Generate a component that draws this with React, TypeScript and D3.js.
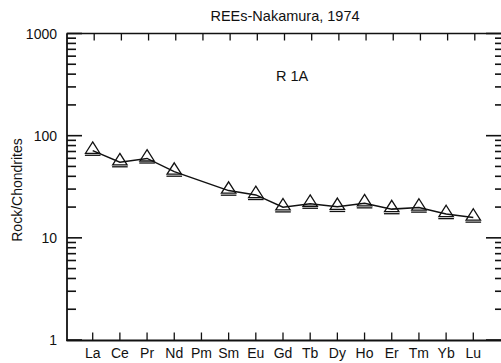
import React from "react";
import * as d3 from "d3";

const elements = ["La", "Ce", "Pr", "Nd", "Pm", "Sm", "Eu", "Gd", "Tb", "Dy", "Ho", "Er", "Tm", "Yb", "Lu"];
const values: (number | null)[] = [71.3, 55, 59.9, 44.5, null, 29, 26.3, 19.9, 21.6, 20.1, 21.8, 19.1, 19.8, 17.1, 15.8];
const yTickLabels = [1, 10, 100, 1000];
const title = "REEs-Nakamura, 1974";
const sampleLabel = "R 1A";
const yAxisLabel = "Rock/Chondrites";

const W = 501;
const H = 363;
const LEFT = 67;
const RIGHT = 502;
const TOP = 33.5;
const BOTTOM = 340.5;
const FONT = "Liberation Sans, Arial, sans-serif";

export default function App() {
  const x = d3.scaleLinear().domain([0, elements.length - 1]).range([92.7, 473.3]);
  const y = d3.scaleLog().domain([1, 1000]).range([340, 33.5]);
  const allTicks = y.ticks();
  const isMajor = (v: number) => Math.abs(Math.log10(v) - Math.round(Math.log10(v))) < 1e-9;

  const pts = values
    .map((v, i) => ({ v, i }))
    .filter((d) => d.v !== null) as { v: number; i: number }[];
  const line = d3
    .line<{ v: number; i: number }>()
    .x((d) => x(d.i))
    .y((d) => y(d.v));

  return (
    <svg
      width={W}
      height={H}
      style={{ position: "absolute", left: 0, top: 0, background: "#fff" }}
      fontFamily={FONT}
    >
      <rect x={0} y={0} width={W} height={H} fill="#fff" />
      <text x={285} y={20.5} fontSize={14.5} textAnchor="middle" fill="#111">
        {title}
      </text>
      <text x={276} y={81} fontSize={14.5} fill="#111">
        {sampleLabel}
      </text>
      <text
        transform={`translate(21.5, 190) rotate(-90)`}
        fontSize={14}
        textAnchor="middle"
        fill="#111"
      >
        {yAxisLabel}
      </text>

      {/* frame */}
      <line x1={LEFT} x2={LEFT} y1={TOP} y2={BOTTOM + 0.5} stroke="#111" strokeWidth={1.8} />
      <line x1={LEFT - 0.5} x2={W} y1={BOTTOM} y2={BOTTOM} stroke="#111" strokeWidth={2} />
      <line x1={LEFT - 0.5} x2={W} y1={TOP} y2={TOP} stroke="#111" strokeWidth={1.6} />
      <line x1={RIGHT} x2={RIGHT} y1={TOP} y2={BOTTOM} stroke="#111" strokeWidth={1.6} />

      {/* y ticks */}
      {allTicks.map((t, k) => {
        const major = isMajor(t);
        const yy = y(t);
        return (
          <g key={"yt" + k}>
            <line x1={LEFT} x2={LEFT + (major ? 15 : 9)} y1={yy} y2={yy} stroke="#111" strokeWidth={1.6} />
            <line x1={W - (major ? 15 : 6)} x2={W} y1={yy} y2={yy} stroke="#111" strokeWidth={1.6} />
          </g>
        );
      })}
      {yTickLabels.map((t) => (
        <text key={"yl" + t} x={57} y={y(t)} dy="0.36em" fontSize={14} textAnchor="end" fill="#111">
          {t}
        </text>
      ))}

      {/* x ticks */}
      {elements.map((e, i) => (
        <g key={"xt" + e}>
          <line x1={x(i)} x2={x(i)} y1={BOTTOM} y2={BOTTOM - 8} stroke="#111" strokeWidth={1.3} />
          <line x1={x(i) + 1.5} x2={x(i) + 1.5} y1={TOP} y2={TOP + 7} stroke="#111" strokeWidth={1.3} />
          <text x={x(i)} y={357.5} fontSize={14} textAnchor="middle" fill="#111">
            {e}
          </text>
        </g>
      ))}

      {/* data line */}
      <path d={line(pts) || ""} fill="none" stroke="#111" strokeWidth={1.5} />

      {/* triangle markers */}
      {pts.map((d) => {
        const cx = x(d.i);
        const cy = y(d.v);
        return (
          <g key={"m" + d.i} fill="none" stroke="#111" strokeWidth={1.3}>
            <path d={`M${cx},${cy - 8.8} L${cx + 7.2},${cy + 2.6} L${cx - 7.2},${cy + 2.6} Z`} />
            <line x1={cx - 7.8} x2={cx + 7.8} y1={cy + 4.6} y2={cy + 4.6} />
          </g>
        );
      })}
    </svg>
  );
}
